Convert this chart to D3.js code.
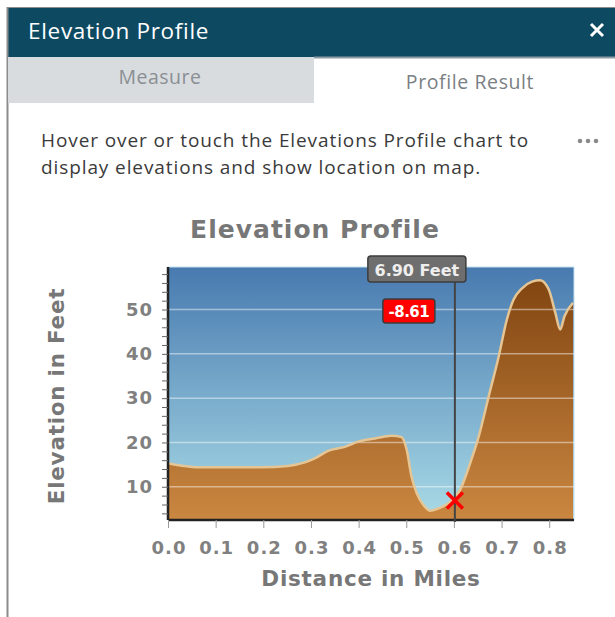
<!DOCTYPE html>
<head>
	<meta charset="utf-8">
	<style>
		body { margin:0; background:#fff; }
		svg { display:block; }
	</style>
	<script src="https://d3js.org/d3.v7.min.js"></script>
</head>
<body>
	<svg width="615" height="617"></svg>
	<script type="text/javascript">
		// profile samples
		var distance = [0, 0.032, 0.063, 0.126, 0.196, 0.252, 0.287, 0.308, 0.336, 0.371, 0.399, 0.434, 0.469, 0.49, 0.501, 0.511, 0.522, 0.536, 0.55, 0.567, 0.592, 0.613, 0.634, 0.652, 0.673, 0.694, 0.711, 0.725, 0.743, 0.764, 0.781, 0.799, 0.813, 0.823, 0.832, 0.85];
		var elevation = [15.3, 14.7, 14.4, 14.4, 14.4, 14.7, 15.5, 16.4, 18.1, 19.0, 20.2, 20.9, 21.5, 21.2, 18.3, 12.3, 8.5, 5.9, 4.6, 5.1, 6.6, 9.3, 15.3, 21.3, 30.4, 39.4, 47.7, 52.2, 54.8, 56.3, 56.6, 54.5, 49.2, 45.5, 48.5, 51.5];
		var xTicks = [0, 0.1, 0.2, 0.3, 0.4, 0.5, 0.6, 0.7, 0.8];
		var yTicks = [10, 20, 30, 40, 50];
		var cursorDist = 0.602, cursorElev = 6.9, cursorLabel = "6.90 Feet", deltaLabel = "-8.61";

		var svg = d3.select("svg"),
			margin = {left:168, top:267, right:41, bottom:97},
			width = 615 - margin.left - margin.right,
			height = 617 - margin.top - margin.bottom;

		var ui = "'Open Sans', sans-serif";

		// panel chrome
		svg.append("rect").attr("x",7).attr("y",7).attr("width",608).attr("height",50).attr("fill","#0d4a62");
		svg.append("line").attr("x1",7).attr("x2",615).attr("y1",7.5).attr("y2",7.5).attr("stroke","#8c8c8c");
		svg.append("line").attr("x1",7.5).attr("x2",7.5).attr("y1",7).attr("y2",617).attr("stroke","#8c8c8c").attr("stroke-width",2);
		svg.append("rect").attr("x",8).attr("y",57).attr("width",306).attr("height",46).attr("fill","#d9dcdf");
		svg.append("line").attr("x1",314).attr("x2",615).attr("y1",57.5).attr("y2",57.5).attr("stroke","#8e9aa3").attr("stroke-width",2);
		svg.append("text").attr("x",28).attr("y",39).attr("fill","#fff").attr("font-family",ui).attr("font-size",22.5).attr("letter-spacing",0.7).text("Elevation Profile");
		svg.append("path").attr("d","M591,24L603,36M603,24L591,36").attr("stroke","#fff").attr("stroke-width",3);
		svg.append("text").attr("x",160).attr("y",84).attr("text-anchor","middle").attr("fill","#8a8f94").attr("font-family",ui).attr("font-size",19.5).attr("letter-spacing",0.5).text("Measure");
		svg.append("text").attr("x",470).attr("y",89).attr("text-anchor","middle").attr("fill","#7a7f84").attr("font-family",ui).attr("font-size",19.5).attr("letter-spacing",0.6).text("Profile Result");
		var desc = svg.append("text").attr("fill","#3a3a3a").attr("font-family",ui).attr("font-size",19).attr("letter-spacing",0.9);
		desc.append("tspan").attr("x",41).attr("y",147).text("Hover over or touch the Elevations Profile chart to");
		desc.append("tspan").attr("x",41).attr("y",174).text("display elevations and show location on map.");
		svg.append("g").selectAll("circle").data([580, 588, 596]).enter().append("circle")
			.attr("cx",function(d){return d}).attr("cy",141).attr("r",2.3).attr("fill","#8a8a8a");

		var x = d3.scaleLinear().domain([0, 0.852]).range([0, width]);
		var y = d3.scaleLinear().domain([2.5, 59.6]).range([height, 0]);

		var defs = svg.append("defs");
		var sky = defs.append("linearGradient").attr("id","sky").attr("x1",0).attr("x2",0).attr("y1",0).attr("y2",1);
		sky.append("stop").attr("offset","0%").attr("stop-color","#487ab0");
		sky.append("stop").attr("offset","100%").attr("stop-color","#a9dbe7");
		var ground = defs.append("linearGradient").attr("id","ground").attr("gradientUnits","userSpaceOnUse").attr("x1",0).attr("x2",0).attr("y1",0).attr("y2",height);
		ground.append("stop").attr("offset","0%").attr("stop-color","#7e420e");
		ground.append("stop").attr("offset","100%").attr("stop-color","#ca8741");

		var font = "'DejaVu Sans', Verdana, sans-serif";
		svg.append("text").attr("x",315).attr("y",238).attr("text-anchor","middle").attr("fill","#777").attr("font-family",font).attr("font-weight","bold").attr("font-size",25).attr("letter-spacing",1).text("Elevation Profile");

		var g = svg.append("g").attr("transform","translate("+margin.left+","+margin.top+")");
		g.append("rect").attr("width",width).attr("height",height).attr("fill","url(#sky)").attr("stroke","#c4dff0");

		var pts = distance.map(function(d,i){return [d, elevation[i]]});
		g.append("path").datum(pts).attr("fill","url(#ground)")
			.attr("d", d3.area().curve(d3.curveMonotoneX).x(function(d){return x(d[0])}).y0(height).y1(function(d){return y(d[1])}));

		// grid
		g.append("g").selectAll("line").data(yTicks).enter().append("line")
			.attr("x1",0).attr("x2",width).attr("y1",function(d){return y(d)}).attr("y2",function(d){return y(d)})
			.attr("stroke","#fff").attr("stroke-opacity",0.45).attr("stroke-width",1.5);

		g.append("path").datum(pts).attr("fill","none").attr("stroke","#e6c594").attr("stroke-width",2.5)
			.attr("d", d3.line().curve(d3.curveMonotoneX).x(function(d){return x(d[0])}).y(function(d){return y(d[1])}));

		// axes
		var yAxis = g.append("g").call(d3.axisLeft(y).tickValues(d3.range(4, 59, 2)).tickSize(6).tickFormat(function(d){return d%10==0 ? d : ""}));
		yAxis.select(".domain").attr("stroke","#222").attr("stroke-width",2.5).attr("d","M0,0V"+height);
		yAxis.selectAll(".tick line").attr("stroke","#666");
		yAxis.selectAll("text").attr("fill","#808080").attr("font-family",font).attr("font-weight","bold").attr("font-size",18).attr("letter-spacing",1).attr("x",-15);

		var xAxis = g.append("g").attr("transform","translate(0,"+height+")").call(d3.axisBottom(x).tickValues(xTicks).tickSize(8).tickFormat(d3.format(".1f")));
		xAxis.select(".domain").attr("stroke","#222").attr("stroke-width",2.5).attr("d","M0,0H"+width);
		xAxis.selectAll(".tick line").attr("stroke","#999");
		xAxis.selectAll("text").attr("fill","#808080").attr("font-family",font).attr("font-weight","bold").attr("font-size",18).attr("letter-spacing",1).attr("dx",0.5).attr("y",21);

		svg.append("text").attr("x",margin.left+width/2).attr("y",586).attr("text-anchor","middle").attr("fill","#777").attr("font-family",font).attr("font-weight","bold").attr("font-size",21.5).attr("letter-spacing",0.75).text("Distance in Miles");
		svg.append("text").attr("transform","translate(64,396) rotate(-90)").attr("text-anchor","middle").attr("fill","#777").attr("font-family",font).attr("font-weight","bold").attr("font-size",21.5).attr("letter-spacing",0.75).text("Elevation in Feet");

		// cursor
		var cx = x(cursorDist), cy = y(cursorElev);
		g.append("line").attr("x1",cx).attr("x2",cx).attr("y1",15).attr("y2",height+2).attr("stroke","#444").attr("stroke-width",2);
		g.append("path").attr("d","M"+(cx-8)+","+(cy-8)+"L"+(cx+8)+","+(cy+8)+"M"+(cx+8)+","+(cy-8)+"L"+(cx-8)+","+(cy+8)).attr("stroke","#ff0000").attr("stroke-width",3.5);

		g.append("rect").attr("x",cx-87).attr("y",-11).attr("width",98).attr("height",26).attr("rx",3).attr("fill","#6e6e6e").attr("stroke","#3c3c3c").attr("stroke-width",1.5);
		g.append("text").attr("x",cx-38).attr("y",9).attr("text-anchor","middle").attr("fill","#eee").attr("font-family",font).attr("font-weight","bold").attr("font-size",16).text(cursorLabel);
		g.append("rect").attr("x",cx-72).attr("y",32).attr("width",52).attr("height",24).attr("rx",3).attr("fill","#ff0000").attr("stroke","#3c3c3c").attr("stroke-width",1.5);
		g.append("text").attr("x",cx-46).attr("y",50).attr("text-anchor","middle").attr("fill","#fff").attr("font-family",font).attr("font-weight","bold").attr("font-size",15).attr("letter-spacing",-0.5).text(deltaLabel);
	</script>
</body>
